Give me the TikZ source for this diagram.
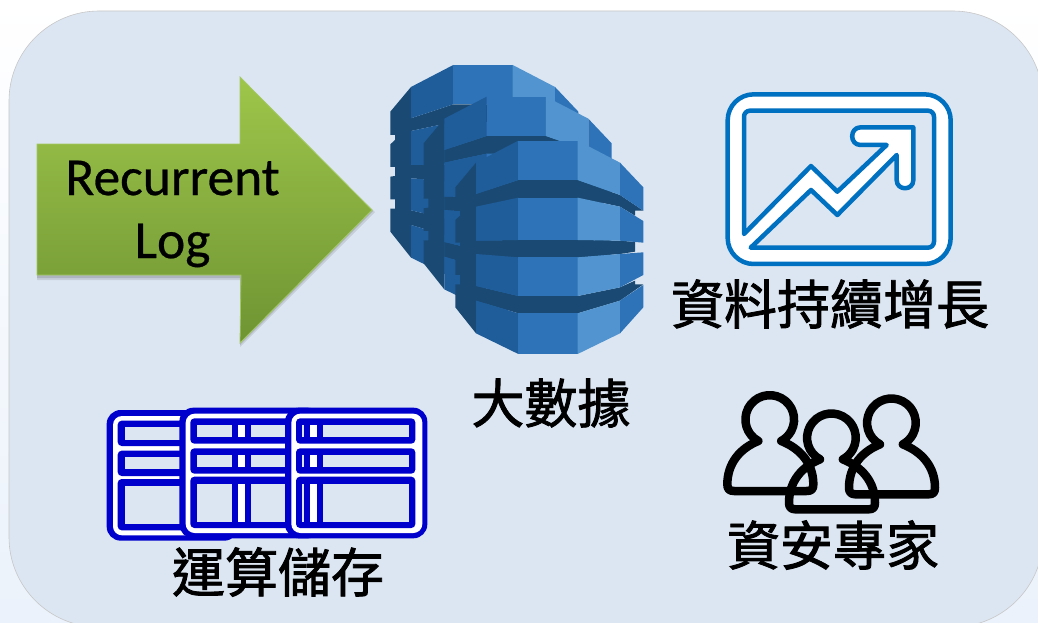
\documentclass[tikz,border=0pt]{standalone}
\usepackage{fontspec}
\setmainfont{Carlito}
\newfontfamily\cjkfont[FakeBold=1.6]{Noto Sans CJK TC}
\newfontfamily\latinfont[FakeBold=0.5]{Carlito}
\definecolor{panel}{HTML}{DCE6F2}
\definecolor{pagelow}{HTML}{EBF2FB}
\definecolor{dbA}{HTML}{1A4A73}
\definecolor{dbB}{HTML}{1F5C9A}
\definecolor{dbC}{HTML}{2E73B8}
\definecolor{dbD}{HTML}{5294CF}
\definecolor{tblue}{HTML}{0000CC}
\definecolor{cblue}{HTML}{0070C0}
\definecolor{arrowtop}{HTML}{9EC64A}
\definecolor{arrowbot}{HTML}{6E9433}
\definecolor{arrowedge}{HTML}{A4C963}
\tikzset{
  px/.style={x=1pt,y=-1pt},
  zoomed/.style={x=0.33333pt,y=-0.33333pt},
  cjklabel/.style={font=\cjkfont\fontsize{53}{53}\selectfont,text=black,inner sep=0pt},
  loglabel/.style={font=\latinfont\fontsize{53.5}{63}\selectfont,text=black,inner sep=0pt,align=center},
  personline/.style={draw=black,line width=8.5pt,line join=round,line cap=round}
}
\newcommand\dbband[8]{%
  \fill[dbB] (288,#1) -- (415,#2) -- (415,#6) -- (288,#5) -- cycle;
  \fill[dbC] (415,#2) -- (593,#2) -- (593,#6) -- (415,#6) -- cycle;
  \fill[dbD] (593,#2) -- (720,#3) -- (720,#7) -- (593,#6) -- cycle;
  \fill[dbC] (720,#3) -- (790,#4) -- (790,#8) -- (720,#7) -- cycle;
}
\newcommand\dbicon[2]{%
  \begin{scope}[shift={(#1,#2)},zoomed]
    \fill[dbA] (288,338) -- (226,412) -- (226,482) -- (240,482) -- (240,497) -- (226,510)
      -- (226,578) -- (240,578) -- (240,605) -- (226,607) -- (226,675) -- (240,675)
      -- (240,703) -- (226,703) -- (226,772) -- (288,850) -- cycle;
    \fill[dbA] (288,432) -- (415,390) -- (593,390) -- (720,435) -- (790,482) -- (765,482)
      -- (765,497) -- (720,470) -- (593,443) -- (415,443) -- (288,470) -- cycle;
    \fill[dbA] (288,572) -- (415,570) -- (593,570) -- (720,572) -- (765,576) -- (765,605)
      -- (720,612) -- (593,622) -- (415,622) -- (288,612) -- cycle;
    \fill[dbA] (288,708) -- (415,738) -- (593,738) -- (720,712) -- (765,692) -- (765,703) -- (790,703)
      -- (720,752) -- (593,790) -- (415,790) -- (288,752) -- cycle;
    \fill[dbB] (288,338) -- (415,272) -- (415,390) -- (288,432) -- cycle;
    \fill[dbC] (415,272) -- (593,272) -- (593,390) -- (415,390) -- cycle;
    \fill[dbD] (593,272) -- (720,338) -- (720,435) -- (593,390) -- cycle;
    \fill[dbC] (720,338) -- (790,412) -- (790,482) -- (720,435) -- cycle;
    \dbband{470}{443}{470}{513}{572}{570}{572}{578}
    \dbband{612}{622}{612}{607}{708}{738}{712}{675}
    \fill[dbB] (288,752) -- (415,790) -- (415,912) -- (288,850) -- cycle;
    \fill[dbC] (415,790) -- (593,790) -- (593,912) -- (415,912) -- cycle;
    \fill[dbD] (593,790) -- (720,752) -- (720,850) -- (593,912) -- cycle;
    \fill[dbC] (720,752) -- (790,705) -- (790,772) -- (720,850) -- cycle;
  \end{scope}%
}
\newcommand\tableicon[5]{%
  \begin{scope}[shift={(90+#1/3,395+#2/3)},zoomed]
    \fill[tblue,rounded corners=14pt] (0,0) rectangle (#3,392);
    \fill[white,rounded corners=9pt] (19,18) rectangle (#3-15,376);
    \fill[tblue,rounded corners=4pt] (33,32) rectangle (#3-36,108);
    \fill[tblue,rounded corners=4pt] (33,122) rectangle (#3-36,198);
    \fill[tblue,rounded corners=4pt] (33,207) rectangle (#3-36,361);
    \fill[panel] (#5,51) rectangle (#3-55,89);
    \fill[panel] (#5,141) rectangle (#3-55,177);
    \fill[panel] (#5,228) rectangle (#3-55,343);
    #4
  \end{scope}%
}
\newcommand\tablebar[1]{%
  \fill[tblue] (#1-18,51) rectangle (#1+38,89);
  \fill[tblue] (#1-18,141) rectangle (#1+38,177);
  \fill[tblue] (#1-18,228) rectangle (#1+38,343);
  \fill[white] (#1,51) rectangle (#1+20,89);
  \fill[white] (#1,141) rectangle (#1+20,177);
  \fill[white] (#1,228) rectangle (#1+20,343);
}
\newcommand\personicon[2]{%
  \draw[personline,shift={(#1,#2)}]
    (145,168) arc[start angle=118,end angle=422,radius=73]
    .. controls (270,190) and (310,235) .. (310,298)
    .. controls (310,312) and (305,318) .. (290,318)
    -- (72,318) .. controls (58,318) and (52,312) .. (52,298)
    .. controls (52,235) and (90,190) .. (145,168) -- cycle;
}
\begin{document}
\begin{tikzpicture}[px]
\useasboundingbox (0,0) rectangle (1038,623);
\shade[top color=white,bottom color=pagelow] (0,0) rectangle (1038,623);
\begin{scope}
  \clip (0,0) rectangle (1038,623);
  \fill[panel,draw=black!22,line width=0.6pt,rounded corners=90pt] (9,11) rectangle (1043,627);
\end{scope}
\fill[black,opacity=.1] (37,148) -- (240,148) -- (240,81) -- (375,212) -- (240,347) -- (240,280) -- (37,280) -- cycle;
\fill[black,opacity=.12] (37,146) -- (240,146) -- (240,79) -- (373,211) -- (240,345) -- (240,278) -- (37,278) -- cycle;
\path[draw=arrowedge,line width=0.8pt,top color=arrowtop,bottom color=arrowbot] (37,144) -- (240,144) -- (240,77) -- (372,210) -- (240,343) -- (241,275) -- (37,275) -- cycle;
\node[loglabel] (logtext) at (172.5,214) {Recurrent\\Log};
\dbicon{315}{-25.7}
\dbicon{348.3}{6}
\dbicon{380}{50}
\node[cjklabel] (bigdata) at (551,403) {大數據};
\begin{scope}[shift={(710,80)},zoomed]
  \fill[white,draw=cblue,line width=4.5pt,rounded corners=26pt] (53,43) rectangle (722,552);
  \path[fill=panel,draw=cblue,line width=4.5pt,line join=round]
    (102,462) [rounded corners=6pt] -- (102,92) -- (672,92) -- (672,503) [sharp corners] -- (122,503)
    -- (303,330) -- (382,405) -- (560,225) -- (560,300)
    .. controls (560,333) and (610,333) .. (610,300)
    -- (610,142) -- (452,142)
    .. controls (418,142) and (418,195) .. (452,195)
    -- (530,195) -- (382,335) -- (303,258) -- cycle;
\end{scope}
\node[cjklabel] (growth) at (830,304) {資料持續增長};
\tableicon{50}{45}{395}{}{55}
\tableicon{268}{38}{427}{\tablebar{177}}{52}
\tableicon{585}{38}{427}{\tablebar{75}}{51}
\node[cjklabel] (storage) at (278,572) {運算儲存};
\begin{scope}[shift={(710,385)},zoomed]
  \personicon{0}{0}
  \personicon{365}{10}
  \personicon{185}{55}
\end{scope}
\node[cjklabel] (experts) at (833,545) {資安專家};
\end{tikzpicture}
\end{document}
